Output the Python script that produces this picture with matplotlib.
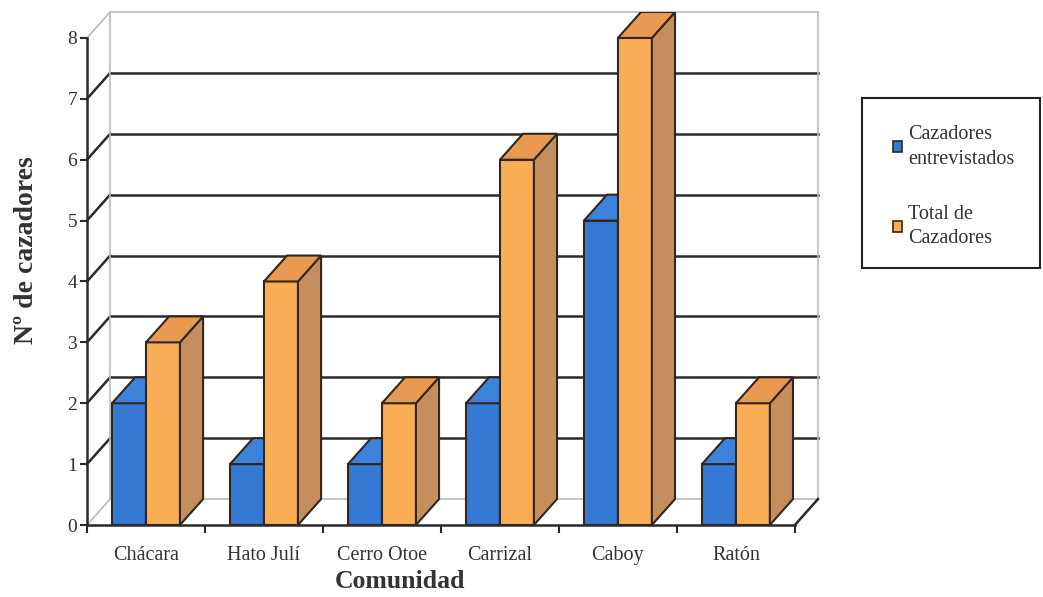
import numpy as np
import matplotlib
matplotlib.use("Agg")
import matplotlib.pyplot as plt
from matplotlib.patches import Polygon, Rectangle, Patch

# data
comunidades = ["Chácara", "Hato Julí", "Cerro Otoe", "Carrizal", "Caboy", "Ratón"]
entrevistados = [2, 1, 1, 2, 5, 1]
total = [3, 4, 2, 6, 8, 2]
series_names = ["Cazadores\nentrevistados", "Total de\nCazadores"]

plt.rcParams['font.family'] = ['Liberation Serif', 'DejaVu Serif']

# colors: front, top, side
blue = ("#3579d4", "#3d82da", "#2c5f9e")
orange = ("#f9ae56", "#e89b50", "#c48f5c")
edge = "#33261c"
grid_dark = "#2a2a2a"
grid_light = "#b8bcbc"
txt = "#333333"

# depth offset of the fake 3d box (data units)
dx = 0.196
dy = 0.426
ymax = 8
n = len(comunidades)

fig = plt.figure(figsize=(10.43, 5.97), dpi=100)
ax = fig.add_axes([87/1043, 72/597, 731/1043, 513/597])
ax.set_xlim(0, n + dx)
ax.set_ylim(0, ymax + dy)

# walls and grid
for v in range(0, ymax + 1):
    c = grid_dark if 0 < v < ymax else grid_light
    lw = 1.8 if 0 < v < ymax else 1.2
    ax.plot([0, dx], [v, v + dy], color=c, lw=lw, zorder=1, clip_on=False)
    ax.plot([dx, n + dx], [v + dy, v + dy], color=c, lw=lw, zorder=1, clip_on=False)
ax.plot([dx, dx], [dy, ymax + dy], color=grid_light, lw=1.2, zorder=1, clip_on=False)
ax.plot([n + dx, n + dx], [dy, ymax + dy], color=grid_light, lw=1.2, zorder=1, clip_on=False)
ax.plot([n, n + dx], [0, dy], color=grid_dark, lw=1.8, zorder=1, clip_on=False)

bw = 0.288
offsets = [0.212, 0.5]
z = 3
for i in range(n):
    for vals, cols, off in [(entrevistados, blue, offsets[0]), (total, orange, offsets[1])]:
        h = vals[i]
        x0 = i + off
        ax.bar(x0, h, width=bw, align='edge', color=cols[0], edgecolor=edge, lw=1.5, zorder=z)
        top = Polygon([(x0, h), (x0 + dx, h + dy), (x0 + bw + dx, h + dy), (x0 + bw, h)],
                      closed=True, facecolor=cols[1], edgecolor=edge, lw=1.5, zorder=z)
        side = Polygon([(x0 + bw, 0), (x0 + bw + dx, dy), (x0 + bw + dx, h + dy), (x0 + bw, h)],
                       closed=True, facecolor=cols[2], edgecolor=edge, lw=1.5, zorder=z)
        ax.add_patch(side)
        ax.add_patch(top)
        z += 1

# axes
for s in ['top', 'right']:
    ax.spines[s].set_visible(False)
ax.spines['left'].set_bounds(0, ymax)
ax.spines['bottom'].set_bounds(0, n)
for s in ['left', 'bottom']:
    ax.spines[s].set_color(grid_dark)
    ax.spines[s].set_linewidth(1.8)
    ax.spines[s].set_zorder(20)

ax.set_yticks(range(0, ymax + 1))
ax.tick_params(axis='y', length=5, width=1.5, color=grid_dark, pad=2,
               labelsize=14, labelcolor=txt)
ax.set_xticks(range(0, n + 1))
ax.set_xticklabels([])
ax.tick_params(axis='x', which='major', length=6, width=1.5, color=grid_dark)
ax.set_xticks(np.arange(n) + 0.5, minor=True)
ax.set_xticklabels(comunidades, minor=True)
ax.tick_params(axis='x', which='minor', length=0, pad=15, labelsize=14.5, labelcolor=txt)

ax.set_xlabel("Comunidad", fontsize=18.5, fontweight='bold', color=txt)
ax.xaxis.set_label_coords(0.428, -0.087)
ax.set_ylabel("Nº de cazadores", fontsize=20, fontweight='bold', color=txt)
ax.yaxis.set_label_coords(-0.066, 0.536)

# legend
fig.patches.append(Rectangle((862/1043, 329/597), 178/1043, 170/597, transform=fig.transFigure,
                             facecolor='white', edgecolor='#222222', lw=1.5, zorder=0))
handles = [Patch(facecolor=blue[0], edgecolor=edge, lw=1.2),
           Patch(facecolor=orange[0], edgecolor=edge, lw=1.2)]
leg = fig.legend(handles, series_names, loc='upper left', bbox_to_anchor=(893/1043, 472/597),
                 frameon=False, fontsize=14.5, handlelength=0.45, handleheight=0.45,
                 handletextpad=0.3, labelspacing=1.8, borderpad=0, borderaxespad=0,
                 labelcolor=txt)
for t in leg.get_texts():
    t.set_linespacing(1.4)

fig.savefig("out.png", dpi=100, facecolor='white')
